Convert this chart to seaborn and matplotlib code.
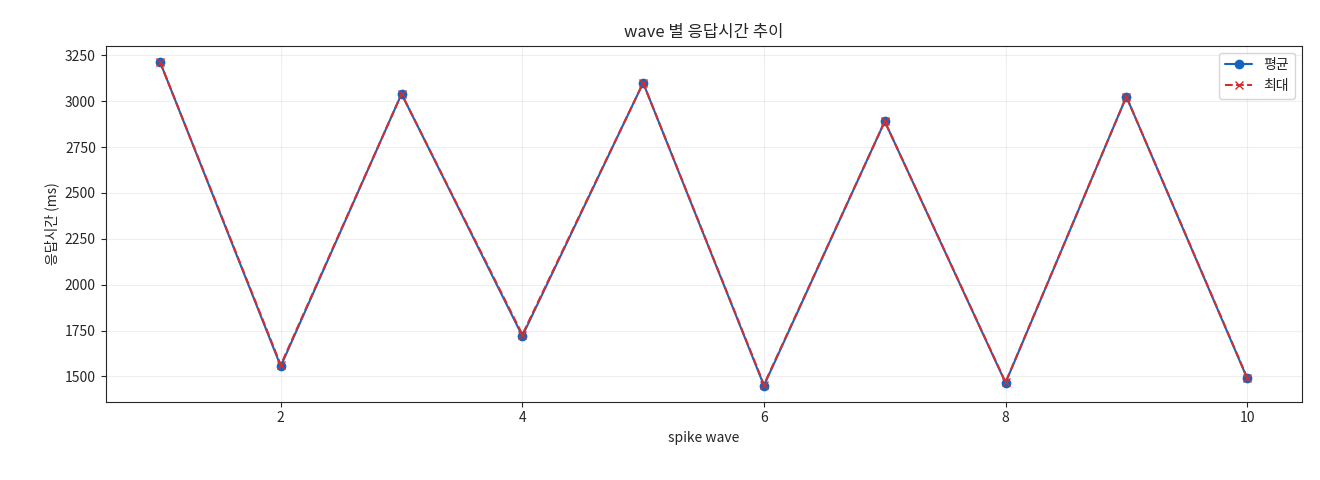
import matplotlib
matplotlib.use("Agg")
import matplotlib.pyplot as plt
import seaborn as sns
import pandas as pd

waves = [1, 2, 3, 4, 5, 6, 7, 8, 9, 10]
avg_ms = [3215, 1555, 3040, 1720, 3100, 1450, 2890, 1465, 3025, 1490]
max_ms = [3215, 1562, 3040, 1728, 3100, 1455, 2890, 1468, 3025, 1493]

sns.set_style("ticks")
plt.rcParams['font.family'] = ['Noto Sans CJK KR', 'DejaVu Sans']
plt.rcParams['axes.unicode_minus'] = False
plt.rcParams['font.size'] = 10

df = pd.DataFrame({"wave": waves, "avg": avg_ms, "max": max_ms})
fig, ax = plt.subplots(figsize=(13.2, 4.8), dpi=100)
ax.plot(df["wave"], df["avg"], marker="o", color="#1565c0", label="평균",
        markersize=6, linewidth=1.5)
ax.plot(df["wave"], df["max"], marker="x", color="#d32f2f", linestyle="--", label="최대",
        markersize=6, linewidth=1.5)
ax.set_title("wave 별 응답시간 추이")
ax.set_xlabel("spike wave")
ax.set_ylabel("응답시간 (ms)")
ax.grid(True, alpha=0.3)
ax.legend(loc="upper right")
fig.subplots_adjust(left=0.08, right=0.986, top=0.905, bottom=0.163)
fig.savefig("out.png")
